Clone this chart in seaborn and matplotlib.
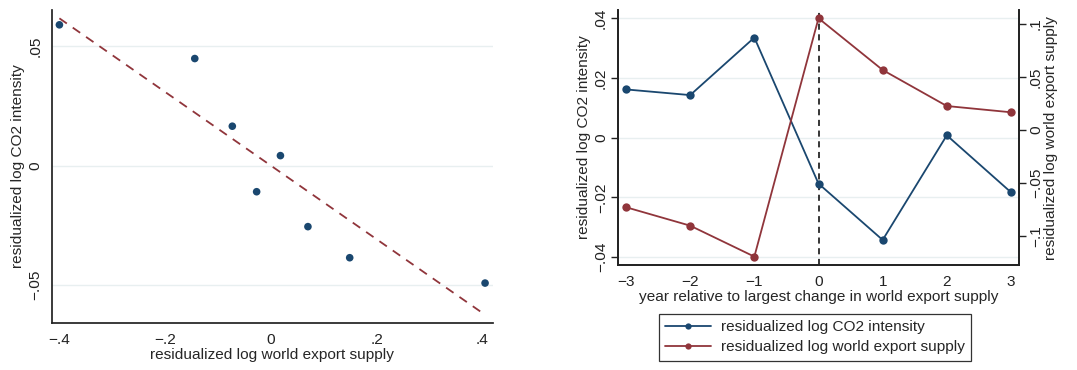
import matplotlib
matplotlib.use("Agg")
import matplotlib.pyplot as plt
import seaborn as sns
import pandas as pd
from matplotlib.lines import Line2D

# binned scatter: residualized log world export supply vs log CO2 intensity
bin_x = [-0.400, -0.144, -0.073, 0.018, -0.027, 0.070, 0.149, 0.405]
bin_y = [0.0589, 0.0448, 0.0165, 0.0042, -0.0109, -0.0255, -0.0385, -0.0491]

# event study around largest change in world export supply
years = [-3, -2, -1, 0, 1, 2, 3]
co2_intensity = [0.0162, 0.0143, 0.0336, -0.0154, -0.0343, 0.0008, -0.0183]
export_supply = [-0.0729, -0.0903, -0.1195, 0.1054, 0.0566, 0.0226, 0.0167]

navy = "#1a476f"
maroon = "#90353b"
grid_col = "#e8eff0"
FS = 11.1

sns.set_theme(style="white")
plt.rcParams["font.family"] = ["Liberation Sans", "DejaVu Sans"]
plt.rcParams.update({"font.size": FS, "axes.edgecolor": "#222222",
                     "xtick.color": "#222222", "ytick.color": "#222222"})

df_bin = pd.DataFrame({"x": bin_x, "y": bin_y})
df_ev = pd.DataFrame({"year": years, "co2": co2_intensity, "exp": export_supply})

fig = plt.figure(figsize=(10.77, 3.70), dpi=100)
W, H = 1077, 370


def style_ticks(ax):
    ax.tick_params(axis="both", direction="out", length=5, width=1, labelsize=FS, pad=2)
    ax.tick_params(axis="y", labelrotation=90)
    for lab in ax.get_yticklabels():
        lab.set_va("center")


def fmt(v):
    s = ("%g" % v).replace("0.", ".")
    return s.replace("-", "\u2212")


# ---- left panel: binned scatter with fitted line
ax1 = fig.add_axes([52 / W, (H - 323) / H, (493 - 52) / W, (323 - 10) / H])
for yv in [-0.05, 0, 0.05]:
    ax1.axhline(yv, color=grid_col, lw=1, zorder=0)
sns.regplot(data=df_bin, x="x", y="y", ax=ax1, ci=None, truncate=True,
            scatter_kws={"color": navy, "s": 30, "alpha": 1, "zorder": 3, "edgecolor": "none"},
            line_kws={"color": maroon, "lw": 1.3, "ls": (0, (5, 4))})
ax1.set_xlim(-0.414, 0.42)
ax1.set_ylim(-0.0658, 0.0651)
ax1.set_xticks([-0.4, -0.2, 0, 0.2, 0.4])
ax1.set_xticklabels([fmt(v) for v in [-0.4, -0.2, 0, 0.2, 0.4]])
ax1.set_yticks([-0.05, 0, 0.05])
ax1.set_yticklabels([fmt(v) for v in [-0.05, 0, 0.05]])
ax1.set_xlabel("residualized log world export supply", fontsize=FS, labelpad=1)
ax1.set_ylabel("residualized log CO2 intensity", fontsize=FS, labelpad=2)
sns.despine(ax=ax1)
style_ticks(ax1)

# ---- right panel: event study, two y axes
ax2 = fig.add_axes([617.7 / W, (H - 265) / H, (1019.3 - 617.7) / W, (265 - 10) / H])
ax3 = ax2.twinx()
for yv in [-0.04, -0.02, 0, 0.02, 0.04]:
    ax2.axhline(yv, color=grid_col, lw=1, zorder=0)
ax2.axvline(0, color="black", lw=1.1, ls=(0, (4, 3)), zorder=1)
sns.lineplot(data=df_ev, x="year", y="co2", ax=ax2, color=navy, lw=1.3,
             marker="o", markersize=6, markeredgewidth=0, zorder=3)
sns.lineplot(data=df_ev, x="year", y="exp", ax=ax3, color=maroon, lw=1.3,
             marker="o", markersize=6, markeredgewidth=0, zorder=3)
ax2.set_xlim(-3.13, 3.13)
ax2.set_ylim(-0.0427, 0.04285)
ax3.set_ylim(-0.1274, 0.1132)
ax2.set_xticks(years)
ax2.set_xticklabels([fmt(v) for v in years])
ax2.set_yticks([-0.04, -0.02, 0, 0.02, 0.04])
ax2.set_yticklabels([fmt(v) for v in [-0.04, -0.02, 0, 0.02, 0.04]])
ax3.set_yticks([-0.1, -0.05, 0, 0.05, 0.1])
ax3.set_yticklabels([fmt(v) for v in [-0.1, -0.05, 0, 0.05, 0.1]])
ax2.set_xlabel("year relative to largest change in world export supply", fontsize=FS, labelpad=1)
ax2.set_ylabel("residualized log CO2 intensity", fontsize=FS, labelpad=2)
ax3.set_ylabel("residualized log world export supply", fontsize=FS, labelpad=1)
for ax in (ax2, ax3):
    ax.spines["top"].set_visible(False)
style_ticks(ax2)
style_ticks(ax3)

handles = [Line2D([], [], color=navy, lw=1.3, marker="o", markersize=4.5, markeredgewidth=0),
           Line2D([], [], color=maroon, lw=1.3, marker="o", markersize=4.5, markeredgewidth=0)]
leg = fig.legend(handles, ["residualized log CO2 intensity", "residualized log world export supply"],
                 loc="upper left", bbox_to_anchor=(659 / W, (H - 314) / H), fontsize=FS,
                 frameon=True, fancybox=False, handlelength=3.0, borderpad=0.4,
                 labelspacing=0.4, handletextpad=0.6, borderaxespad=0)
leg.get_frame().set_edgecolor("black")
leg.get_frame().set_linewidth(0.9)

fig.savefig("out.png", dpi=100, facecolor="white")
